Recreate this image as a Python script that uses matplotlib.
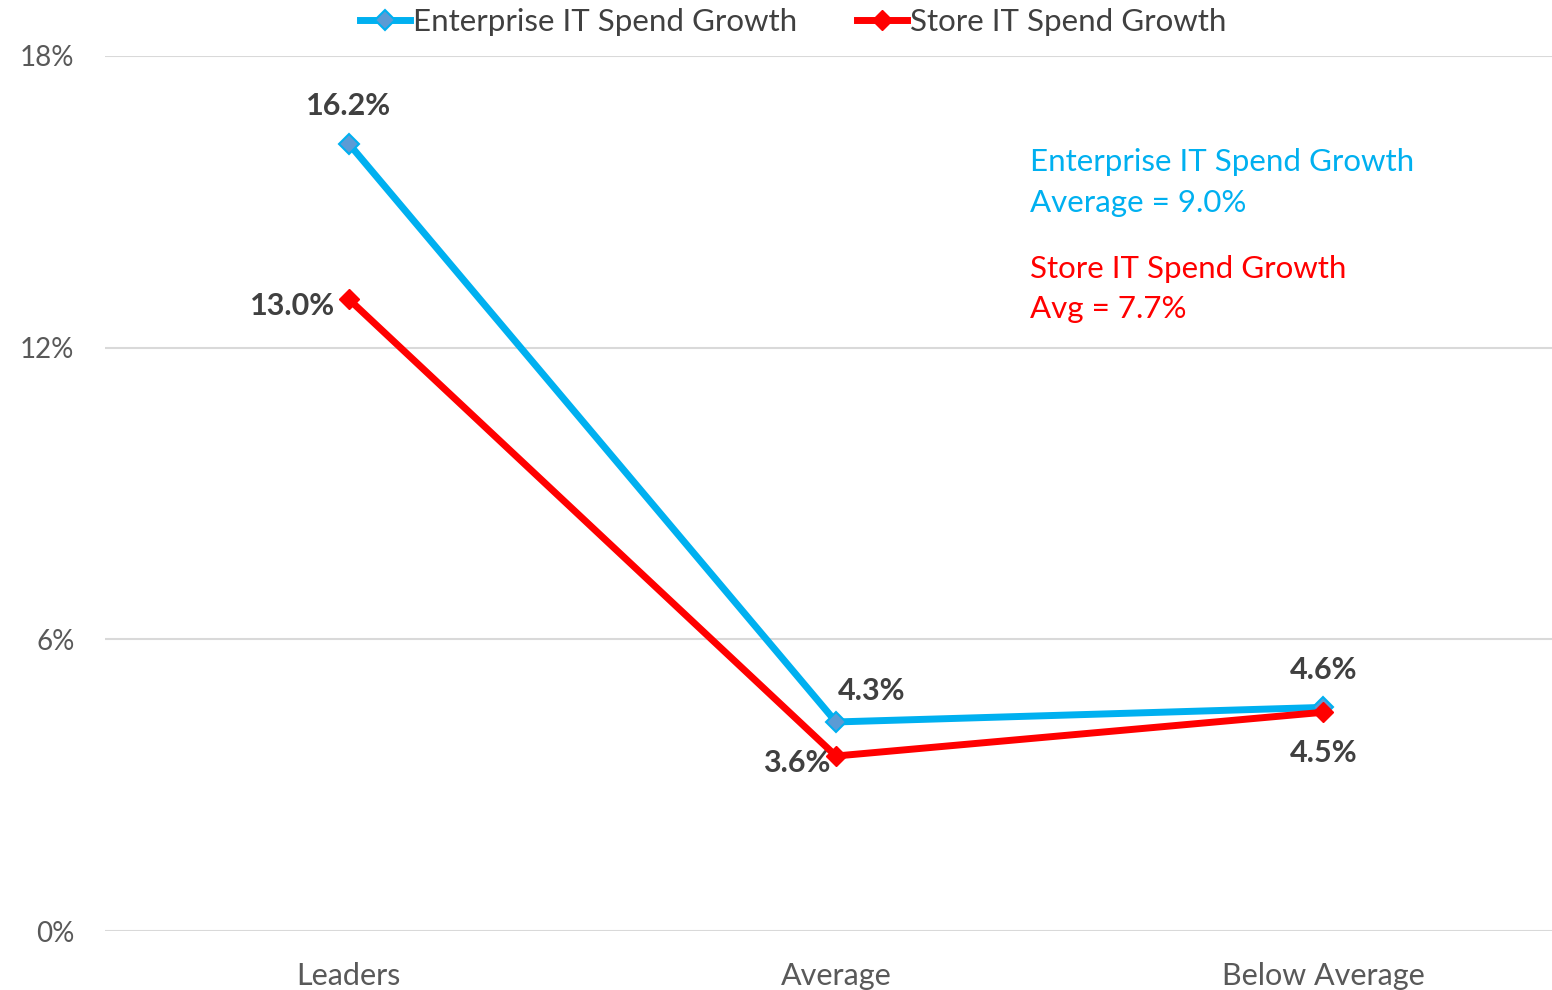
import numpy as np
import matplotlib.pyplot as plt
import matplotlib

matplotlib.rcParams.update({'font.family': 'Lato'})

categories = ["Leaders", "Average", "Below Average"]
enterprise = [16.2, 4.3, 4.6]
store = [13.0, 3.6, 4.5]
yticks = [0, 6, 12, 18]

blue = "#00B0F0"
red = "#FF0000"
grey = "#404040"

fig = plt.figure(figsize=(15.52, 9.9), dpi=100)
ax = fig.add_axes([105/1552, 1-931/990, 1462/1552, (931-56)/990])

x = np.arange(len(categories))
ax.plot(x, enterprise, color=blue, lw=5, marker="D", ms=10,
        mfc="#5B9BD5", mec=blue, mew=1.5, label="Enterprise IT Spend Growth", zorder=3)
ax.plot(x, store, color=red, lw=5, marker="D", ms=10,
        mfc=red, mec=red, label="Store IT Spend Growth", zorder=4)

ax.set_xlim(-0.5, 2.5)
ax.set_ylim(0, 18)
ax.set_yticks(yticks)
ax.set_yticklabels([f"{t}%" for t in yticks], fontsize=20, color="#595959")
ax.set_xticks(x)
ax.set_xticklabels(categories, fontsize=22, color="#595959")
ax.tick_params(length=0, axis="y", pad=22)
ax.tick_params(length=0, axis="x", pad=22)
ax.grid(axis="y", color="#D9D9D9", lw=1.5)
ax.set_axisbelow(True)
for s in ax.spines.values():
    s.set_visible(False)

lab = dict(fontsize=22, fontweight="bold", color=grey)
# enterprise labels
ax.annotate(f"{enterprise[0]:.1f}%", (x[0], enterprise[0]), xytext=(0, 27), textcoords="offset points", ha="center", va="center", **lab)
ax.annotate(f"{enterprise[1]:.1f}%", (x[1], enterprise[1]), xytext=(1, 22), textcoords="offset points", ha="left", va="center", **lab)
ax.annotate(f"{enterprise[2]:.1f}%", (x[2], enterprise[2]), xytext=(0, 27), textcoords="offset points", ha="center", va="center", **lab)
# store labels
ax.annotate(f"{store[0]:.1f}%", (x[0], store[0]), xytext=(-10, -5), textcoords="offset points", ha="right", va="center", **lab)
ax.annotate(f"{store[1]:.1f}%", (x[1], store[1]), xytext=(-4, -5), textcoords="offset points", ha="right", va="center", **lab)
ax.annotate(f"{store[2]:.1f}%", (x[2], store[2]), xytext=(0, -29), textcoords="offset points", ha="center", va="center", **lab)

ax.text(0.6325, 0.895, "Enterprise IT Spend Growth\nAverage = 9.0%", transform=ax.transAxes,
        color=blue, fontsize=22.5, va="top", ha="left", linespacing=1.55)
ax.text(0.6325, 0.773, "Store IT Spend Growth\nAvg = 7.7%", transform=ax.transAxes,
        color=red, fontsize=22.5, va="top", ha="left", linespacing=1.55)

leg = fig.legend(loc="upper center", bbox_to_anchor=(0.511, 1.02), ncol=2, frameon=False,
                 fontsize=22.5, handlelength=1.6, columnspacing=1.9, handletextpad=0.1)
for t in leg.get_texts():
    t.set_color(grey)

fig.savefig("out.png", dpi=100)
